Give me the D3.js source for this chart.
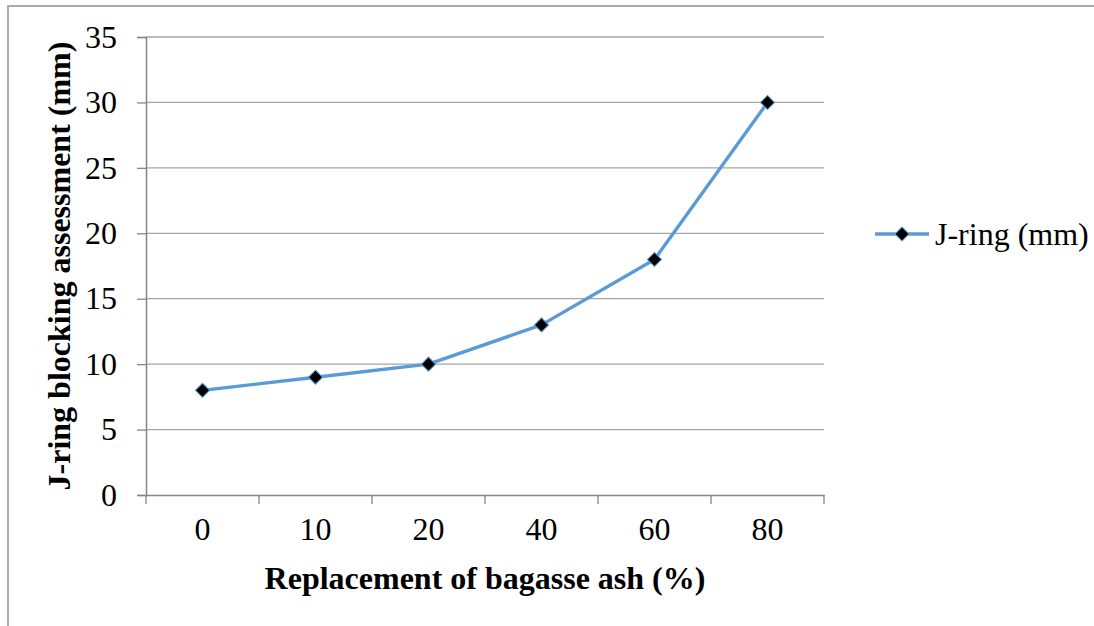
<!DOCTYPE html>
<html><head><meta charset="utf-8">
<script src="https://cdn.jsdelivr.net/npm/d3@7"></script>
<style>body{margin:0;background:#fff}svg{display:block}</style>
</head><body>
<svg id="c" width="1094" height="626"></svg>
<script>
const categories = ["0","10","20","40","60","80"];
const values = [8, 9, 10, 13, 18, 30];
const yTicks = [0,5,10,15,20,25,30,35];
const seriesName = "J-ring (mm)";
const xTitle = "Replacement of bagasse ash (%)";
const yTitle = "J-ring blocking assessment (mm)";

const svg = d3.select("#c");
const font = "'Liberation Serif','Times New Roman',serif";
const fs = 32;
const L = 146, R = 824, T = 37, B = 495;

// outer frame
svg.append("path").attr("d","M8,640 V6 H1100").attr("fill","none").attr("stroke","#ababab").attr("stroke-width",2);

const x = d3.scaleBand().domain(categories).range([L,R]);
const y = d3.scaleLinear().domain([0,35]).range([B,T]);

// gridlines
svg.append("g").selectAll("line").data(yTicks.filter(d=>d>0)).join("line")
  .attr("x1",L).attr("x2",R).attr("y1",d=>y(d)).attr("y2",d=>y(d))
  .attr("stroke","#a6a6a6").attr("stroke-width",1.3);

// y axis
const ya = svg.append("g").attr("transform",`translate(${L},0)`)
  .call(d3.axisLeft(y).tickValues(yTicks).tickSize(9).tickPadding(20));
ya.select(".domain").attr("stroke","#868686").attr("stroke-width",1.5);
ya.selectAll(".tick line").attr("stroke","#868686").attr("stroke-width",1.3);
ya.selectAll("text").attr("font-family",font).attr("font-size",fs).attr("fill","#000");

// x axis
const xa = svg.append("g").attr("transform",`translate(0,${B})`)
  .call(d3.axisBottom(x).tickSize(0).tickPadding(22));
xa.select(".domain").attr("stroke","#868686").attr("stroke-width",1.5);
xa.selectAll("text").attr("font-family",font).attr("font-size",fs).attr("fill","#000");
// x tick marks at band boundaries
const bounds = categories.map(c=>x(c)).concat([R]);
xa.append("g").selectAll("line").data(bounds).join("line")
  .attr("x1",d=>d).attr("x2",d=>d).attr("y1",0).attr("y2",9)
  .attr("stroke","#868686").attr("stroke-width",1.3);

// line
const cx = d=>x(d)+x.bandwidth()/2;
svg.append("path").datum(values)
  .attr("d", d3.line().x((d,i)=>cx(categories[i])).y(d=>y(d)))
  .attr("fill","none").attr("stroke","#5b9bd5").attr("stroke-width",3.4).attr("stroke-linejoin","round");

svg.append("g").selectAll("path").data(values).join("path")
  .attr("d", d3.symbol().type(d3.symbolSquare).size(100)())
  .attr("transform",(d,i)=>`translate(${cx(categories[i])},${y(d)}) rotate(45)`)
  .attr("fill","#000").attr("stroke","#5b9bd5").attr("stroke-width",1);

// axis titles
svg.append("text").attr("x",(L+R)/2).attr("y",589).attr("text-anchor","middle")
  .attr("font-family",font).attr("font-size",fs).attr("font-weight","bold").text(xTitle);
svg.append("text").attr("transform",`translate(70,${(T+B)/2}) rotate(-90)`).attr("text-anchor","middle")
  .attr("font-family",font).attr("font-size",fs).attr("font-weight","bold").text(yTitle);

// legend
const lg = svg.append("g").attr("transform","translate(875,234)");
lg.append("line").attr("x1",0).attr("x2",54).attr("y1",0).attr("y2",0).attr("stroke","#5b9bd5").attr("stroke-width",3.4);
lg.append("path").attr("d", d3.symbol().type(d3.symbolSquare).size(100)()).attr("transform","translate(27,0) rotate(45)")
  .attr("fill","#000").attr("stroke","#5b9bd5").attr("stroke-width",1);
lg.append("text").attr("x",60).attr("y",11).attr("font-family",font).attr("font-size",fs).attr("fill","#000").text(seriesName);
</script>
</body></html>
